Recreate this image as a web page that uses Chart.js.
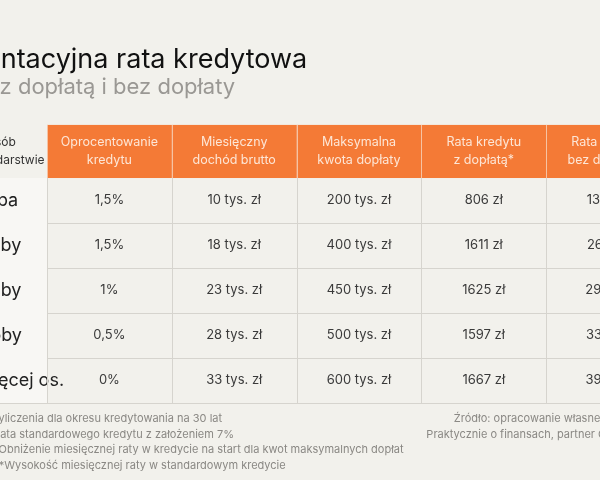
<!DOCTYPE html>
<html><head><meta charset="utf-8">
<script src="https://cdn.jsdelivr.net/npm/chart.js@4"></script>
<style>
html,body{margin:0;padding:0;background:#f2f1ec;overflow:hidden;width:600px;height:480px;}
#wrap{position:absolute;left:-100px;top:0;width:820px;height:480px;}
</style></head><body>
<div id="wrap"><canvas id="c" width="820" height="480"></canvas></div>
<script>
const title = "Orientacyjna rata kredytowa";
const subtitle = "z dopłatą i bez dopłaty";
const cornerLabel = ["Liczba osób", "w gospodarstwie"];
const headers = [["Oprocentowanie","kredytu"],["Miesięczny","dochód brutto"],["Maksymalna","kwota dopłaty"],["Rata kredytu","z dopłatą*"],["Rata kredytu","bez dopłaty**"]];
const rowLabels = ["1 osoba","2 osoby","3 osoby","4 osoby","5 i więcej os."];
const rate = ["1,5%","1,5%","1%","0,5%","0%"];
const income = ["10 tys. zł","18 tys. zł","23 tys. zł","28 tys. zł","33 tys. zł"];
const maxSubsidy = ["200 tys. zł","400 tys. zł","450 tys. zł","500 tys. zł","600 tys. zł"];
const withSubsidy = ["806 zł","1611 zł","1625 zł","1597 zł","1667 zł"];
const noSubsidy = ["1330 zł","2661 zł","2994 zł","3327 zł","3992 zł"];
const footnotes = ["*Wyliczenia dla okresu kredytowania na 30 lat","**Rata standardowego kredytu z założeniem 7%","***Obniżenie miesięcznej raty w kredycie na start dla kwot maksymalnych dopłat","****Wysokość miesięcznej raty w standardowym kredycie"];
const source = ["Źródło: opracowanie własne","Praktycznie o finansach, partner Gazety"];

const columns = [rate, income, maxSubsidy, withSubsidy, noSubsidy];
const F = "Inter, 'Noto Sans', sans-serif";

const tablePlugin = {
  id:'table',
  beforeDraw(chart){
    const ctx = chart.ctx, xs = chart.scales.x, ys = chart.scales.y;
    const X = v => xs.getPixelForValue(v), Y = v => ys.getPixelForValue(v);
    ctx.save();
    ctx.fillStyle = '#f2f1ec'; ctx.fillRect(0,0,chart.width,chart.height);
    ctx.textBaseline = 'alphabetic'; ctx.textAlign = 'left';
    ctx.fillStyle = '#111'; ctx.font = "400 27px "+F;
    ctx.fillText(title, X(-0.8), Y(-2.44));
    ctx.fillStyle = '#9a9894'; ctx.font = "400 22px "+F;
    ctx.fillText(subtitle, X(-0.38), Y(-1.86));
    for(let i=0;i<headers.length;i++){
      const x0 = X(i), x1 = X(i+1), y0 = Y(-1.18), y1 = Y(0);
      ctx.fillStyle = '#f47a36'; ctx.fillRect(x0,y0,x1-x0,y1-y0);
      ctx.strokeStyle = '#f6c3a3'; ctx.lineWidth = 1;
      ctx.beginPath(); ctx.moveTo(Math.round(x0)+0.5,y0); ctx.lineTo(Math.round(x0)+0.5,y1); ctx.stroke();
      ctx.fillStyle = '#fde6d6'; ctx.font = "400 12.5px "+F; ctx.textAlign='center'; ctx.textBaseline='middle';
      const cx=(x0+x1)/2, cy=(y0+y1)/2;
      ctx.fillText(headers[i][0], cx, cy-9);
      ctx.fillText(headers[i][1], cx, cy+9);
    }
    ctx.fillStyle = '#333'; ctx.font = "400 12px "+F; ctx.textAlign='left';
    const cy0 = (Y(-1.18)+Y(0))/2;
    ctx.fillText(cornerLabel[0], X(-0.8), cy0-9);
    ctx.fillText(cornerLabel[1], X(-0.8), cy0+9);
    for(let r=0;r<rowLabels.length;r++){
      const y0 = Y(r), y1 = Y(r+1), cy=(y0+y1)/2;
      ctx.fillStyle = '#f8f7f4'; ctx.fillRect(X(-1),y0,X(0)-X(-1),y1-y0);
      ctx.fillStyle = '#222'; ctx.font = "400 18px "+F; ctx.textAlign='left';
      ctx.fillText(rowLabels[r], X(-0.75), cy);
      ctx.font = "400 13px "+F; ctx.textAlign='center'; ctx.fillStyle='#3a3a3a';
      for(let c=0;c<columns.length;c++) ctx.fillText(columns[c][r], (X(c)+X(c+1))/2, cy);
      ctx.strokeStyle='#d6d4ce'; ctx.lineWidth=1.2;
      ctx.beginPath(); ctx.moveTo(X(-1),Math.round(y1)+0.5); ctx.lineTo(X(6),Math.round(y1)+0.5); ctx.stroke();
    }
    ctx.strokeStyle='#d6d4ce'; ctx.lineWidth=1;
    for(let c=0;c<=columns.length;c++){
      ctx.beginPath(); ctx.moveTo(Math.round(X(c))+0.5,Y(0)); ctx.lineTo(Math.round(X(c))+0.5,Y(rowLabels.length)); ctx.stroke();
    }
    ctx.fillStyle='#8a8884'; ctx.font="400 11px "+F; ctx.textAlign='left'; ctx.textBaseline='middle';
    footnotes.forEach((t,i)=>ctx.fillText(t, X(-0.52), Y(5.35)+i*15.5));
    ctx.fillText(source[0], X(3.26), Y(5.35));
    ctx.fillText(source[1], X(3.04), Y(5.35)+15.5);
    ctx.restore();
  }
};

new Chart(document.getElementById('c'), {
  type:'scatter',
  data:{datasets:[{data:[],pointRadius:0}]},
  options:{
    responsive:false, animation:false, events:[],
    layout:{padding:0},
    plugins:{legend:{display:false},tooltip:{enabled:false}},
    scales:{
      x:{display:false,min:-1.178,max:5.393},
      y:{display:false,reverse:true,min:-3.956,max:6.711}
    }
  },
  plugins:[tablePlugin]
});
</script></body></html>
